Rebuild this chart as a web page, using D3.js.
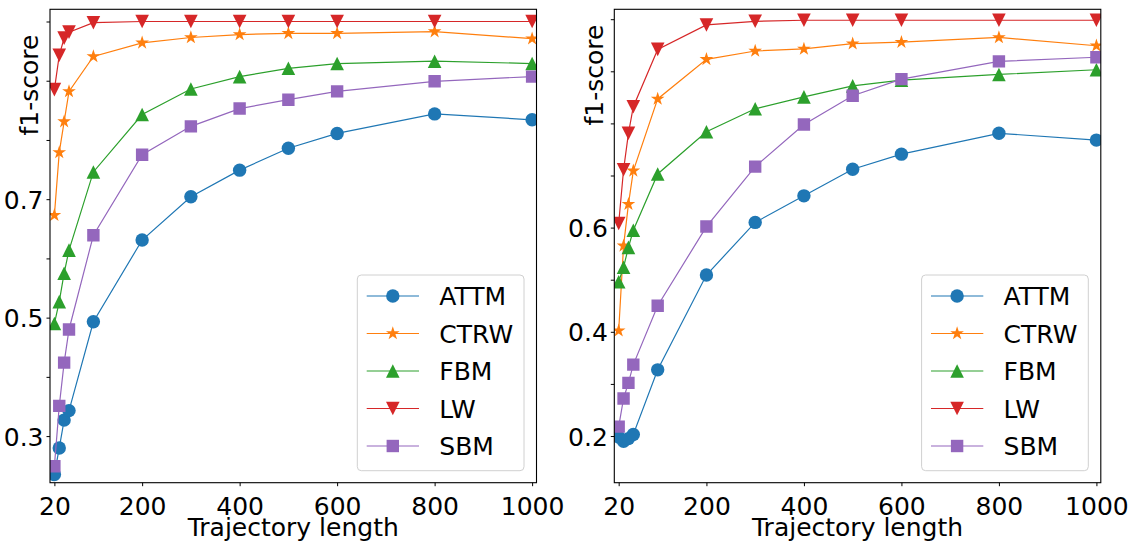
<!DOCTYPE html>
<html>
<head>
<meta charset="utf-8">
<script src="https://cdn.jsdelivr.net/npm/d3@7"></script>
<style>
  body { margin: 0; background: #fff; }
  svg { font-family: "DejaVu Sans", sans-serif; }
</style>
</head>
<body>
<div id="chart"></div>
<script>
// trajectory lengths used on both panels
const lengths = [20, 30, 40, 50, 100, 200, 300, 400, 500, 600, 800, 1000];
const models = ["ATTM", "CTRW", "FBM", "LW", "SBM"];
const colors = ["#1f77b4", "#ff7f0e", "#2ca02c", "#d62728", "#9467bd"];
const xTicks = [20, 200, 400, 600, 800, 1000];

// left panel f1-scores
const leftATTM = [0.235, 0.280, 0.327, 0.343, 0.493, 0.631, 0.704, 0.749, 0.786, 0.811, 0.844, 0.834];
const leftCTRW = [0.673, 0.779, 0.831, 0.882, 0.941, 0.964, 0.973, 0.978, 0.980, 0.980, 0.983, 0.971];
const leftFBM  = [0.490, 0.527, 0.575, 0.614, 0.746, 0.843, 0.886, 0.907, 0.921, 0.929, 0.933, 0.929];
const leftLW   = [0.885, 0.943, 0.972, 0.982, 0.998, 1.000, 1.000, 1.000, 1.000, 1.000, 1.000, 1.000];
const leftSBM  = [0.249, 0.351, 0.424, 0.480, 0.639, 0.775, 0.823, 0.853, 0.868, 0.882, 0.899, 0.907];
const leftYTicks = [0.3, 0.4, 0.5, 0.6, 0.7, 0.8, 0.9, 1.0];
const leftYLabels = [0.3, 0.5, 0.7];

// right panel f1-scores
const rightATTM = [0.198, 0.190, 0.195, 0.203, 0.327, 0.509, 0.610, 0.661, 0.712, 0.741, 0.781, 0.768];
const rightCTRW = [0.402, 0.565, 0.645, 0.709, 0.847, 0.923, 0.939, 0.943, 0.953, 0.956, 0.965, 0.949];
const rightFBM  = [0.496, 0.524, 0.562, 0.595, 0.703, 0.784, 0.828, 0.851, 0.872, 0.883, 0.894, 0.903];
const rightLW   = [0.608, 0.711, 0.781, 0.832, 0.942, 0.989, 0.996, 0.998, 0.998, 0.998, 0.998, 0.998];
const rightSBM  = [0.218, 0.272, 0.302, 0.337, 0.450, 0.602, 0.717, 0.798, 0.853, 0.885, 0.919, 0.927];
const rightYTicks = [0.2, 0.3, 0.4, 0.5, 0.6, 0.7, 0.8, 0.9, 1.0];
const rightYLabels = [0.2, 0.4, 0.6];

const W = 1136, H = 544;
const svg = d3.select("#chart").append("svg")
  .attr("width", W).attr("height", H);

// marker shapes, roughly matplotlib o * ^ v s at markersize 10
function markerPath(kind) {
  const p = d3.path();
  if (kind === 0) {
    p.arc(0, 0, 6.7, 0, 2 * Math.PI);
  } else if (kind === 1) {
    const R = 7.2, r = R * 0.382;
    for (let i = 0; i < 10; i++) {
      const a = -Math.PI / 2 + i * Math.PI / 5;
      const rr = i % 2 ? r : R;
      i ? p.lineTo(rr * Math.cos(a), rr * Math.sin(a)) : p.moveTo(rr * Math.cos(a), rr * Math.sin(a));
    }
  } else if (kind === 2) {
    p.moveTo(0, -6.8); p.lineTo(6.8, 6.8); p.lineTo(-6.8, 6.8);
  } else if (kind === 3) {
    p.moveTo(0, 6.8); p.lineTo(6.8, -6.8); p.lineTo(-6.8, -6.8);
  } else {
    p.rect(-6.2, -6.2, 12.4, 12.4);
  }
  p.closePath();
  return p.toString();
}

function drawPanel(cfg) {
  const x = d3.scaleLinear().domain([11, 1009]).range([cfg.left, cfg.left + 486.5]);
  const y = d3.scaleLinear().domain(cfg.yDomain).range([482.7, 9.3]);
  const g = svg.append("g");

  g.append("clipPath").attr("id", cfg.id)
    .append("rect")
      .attr("x", x.range()[0]).attr("y", 9.3)
      .attr("width", x.range()[1] - x.range()[0]).attr("height", 473.4);

  // series
  const plot = g.append("g").attr("clip-path", `url(#${cfg.id})`);
  cfg.series.forEach((vals, i) => {
    const pts = lengths.map((L, j) => ({ x: L, y: vals[j] }));
    plot.append("path")
      .datum(pts)
      .attr("fill", "none")
      .attr("stroke", colors[i])
      .attr("stroke-width", 1.2)
      .attr("d", d3.line().x(d => x(d.x)).y(d => y(d.y)));
    plot.selectAll(null)
      .data(pts)
      .enter().append("path")
        .attr("transform", d => `translate(${x(d.x)},${y(d.y)})`)
        .attr("d", markerPath(i))
        .attr("fill", colors[i]);
  });

  // x axis
  const xAxisG = g.append("g")
    .attr("transform", "translate(0,482.7)")
    .call(d3.axisBottom(x).tickValues(xTicks).tickFormat(d3.format("d"))
      .tickSize(3.5).tickPadding(11).tickSizeOuter(0));
  xAxisG.select(".domain").remove();
  xAxisG.selectAll("line").attr("stroke", "#000").attr("stroke-width", 1);
  xAxisG.selectAll("text").attr("fill", "#000").attr("font-size", "25px")
    .attr("font-family", "DejaVu Sans");

  // y axis
  const yAxisG = g.append("g")
    .attr("transform", `translate(${cfg.left},0)`)
    .call(d3.axisLeft(y).tickValues(cfg.yTicks).tickSize(3.5).tickPadding(3)
      .tickFormat(d => cfg.yLabels.some(v => Math.abs(v - d) < 1e-9) ? d3.format(".1f")(d) : ""));
  yAxisG.select(".domain").remove();
  yAxisG.selectAll("line").attr("stroke", "#000").attr("stroke-width", 1);
  yAxisG.selectAll("text").attr("fill", "#000").attr("font-size", "25px")
    .attr("font-family", "DejaVu Sans").attr("dy", "0.36em");

  // spines
  g.append("rect")
    .attr("x", x.range()[0]).attr("y", 9.3)
    .attr("width", x.range()[1] - x.range()[0]).attr("height", 473.4)
    .attr("fill", "none").attr("stroke", "#000").attr("stroke-width", 1.1);

  // axis titles
  g.append("text")
    .attr("x", (x.range()[0] + x.range()[1]) / 2).attr("y", 535.5)
    .attr("text-anchor", "middle").attr("font-size", "25px")
    .text("Trajectory length");
  g.append("text")
    .attr("transform", `translate(${cfg.yLabelX},${cfg.yLabelY}) rotate(-90)`)
    .attr("text-anchor", "middle").attr("font-size", "25px")
    .text("f1-score");

  // legend
  const lx = x.range()[1] - 12.5 - 166.7, ly = 482.7 - 12 - 195.7;
  const leg = g.append("g");
  leg.append("rect")
    .attr("x", lx).attr("y", ly).attr("width", 166.7).attr("height", 195.7)
    .attr("rx", 4).attr("fill", "#fff").attr("fill-opacity", 0.8)
    .attr("stroke", "#d0d0d0").attr("stroke-width", 1);
  models.forEach((m, i) => {
    const cy = ly + 21 + i * 37.5;
    leg.append("line")
      .attr("x1", lx + 9.4).attr("x2", lx + 61.7).attr("y1", cy).attr("y2", cy)
      .attr("stroke", colors[i]).attr("stroke-width", 1.2);
    leg.append("path")
      .attr("transform", `translate(${lx + 35.5},${cy})`)
      .attr("d", markerPath(i)).attr("fill", colors[i]);
    leg.append("text")
      .attr("x", lx + 82).attr("y", cy + 9)
      .attr("font-size", "25px").attr("fill", "#000")
      .text(m);
  });
}

drawPanel({
  id: "clipL", left: 50, yDomain: [0.2213, 1.0206],
  series: [leftATTM, leftCTRW, leftFBM, leftLW, leftSBM],
  yTicks: leftYTicks, yLabels: leftYLabels, yLabelX: 38, yLabelY: 85
});
drawPanel({
  id: "clipR", left: 614.3, yDomain: [0.1104, 1.019],
  series: [rightATTM, rightCTRW, rightFBM, rightLW, rightSBM],
  yTicks: rightYTicks, yLabels: rightYLabels, yLabelX: 603, yLabelY: 75
});
</script>
</body>
</html>
